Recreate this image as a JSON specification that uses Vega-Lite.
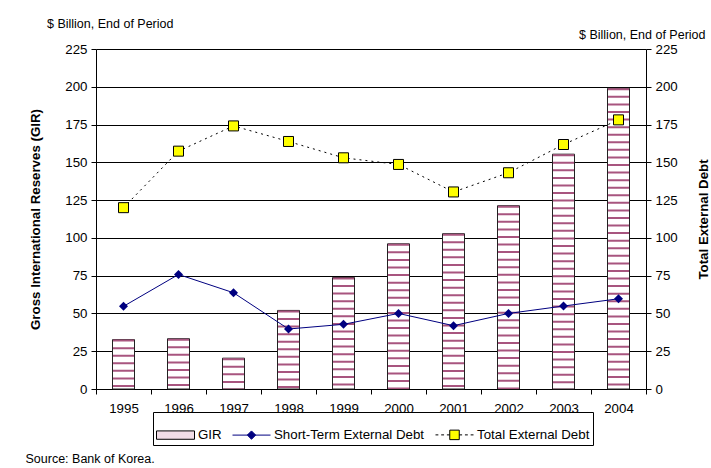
{
  "$schema": "https://vega.github.io/schema/vega-lite/v6.json",
  "width": 550,
  "height": 340,
  "autosize": "none",
  "padding": {"left": 96, "top": 49, "right": 65, "bottom": 79},
  "background": "white",
  "config": {
    "font": "Liberation Sans",
    "view": {"stroke": null},
    "axis": {
      "labelFont": "Liberation Sans",
      "labelFontSize": 13.3,
      "labelColor": "black",
      "domainColor": "black",
      "tickColor": "black",
      "tickSize": 5,
      "titleFont": "Liberation Sans",
      "titleFontSize": 13.3,
      "titleColor": "black",
      "gridColor": "black",
      "gridOpacity": 1,
      "labelOverlap": false
    }
  },
  "title": {
    "text": "$ Billion, End of Period",
    "anchor": "start",
    "frame": "group",
    "fontSize": 12.5,
    "fontWeight": "normal",
    "font": "Liberation Sans",
    "color": "black",
    "dx": -49,
    "dy": 7,
    "offset": 5
  },
  "data": {
    "values": [
      {"year": "1995", "gir": 32.7, "std": 54.7, "ted": 120.0},
      {"year": "1996", "gir": 33.3, "std": 75.8, "ted": 157.4},
      {"year": "1997", "gir": 20.4, "std": 63.7, "ted": 174.1},
      {"year": "1998", "gir": 52.0, "std": 39.7, "ted": 163.8},
      {"year": "1999", "gir": 73.8, "std": 42.8, "ted": 153.0},
      {"year": "2000", "gir": 96.1, "std": 50.0, "ted": 148.6},
      {"year": "2001", "gir": 102.8, "std": 41.9, "ted": 130.4},
      {"year": "2002", "gir": 121.3, "std": 50.0, "ted": 143.1},
      {"year": "2003", "gir": 155.4, "std": 54.9, "ted": 161.8},
      {"year": "2004", "gir": 199.0, "std": 59.7, "ted": 178.1}
    ]
  },
  "layer": [
    {
      "encoding": {
        "x": {
          "field": "year",
          "type": "ordinal",
          "scale": {"paddingInner": 0, "paddingOuter": 0},
          "axis": {
            "orient": "bottom",
            "labelAngle": 0,
            "tickBand": "extent",
            "labelPadding": 7,
            "title": "Source: Bank of Korea.",
            "titleFontSize": 12.5,
            "titleFontWeight": "normal",
            "titleX": -71,
            "titleY": 69,
            "titleAlign": "left",
            "titleBaseline": "middle",
            "titleAngle": 0
          }
        },
        "y": {
          "field": "gir",
          "type": "quantitative",
          "scale": {"domain": [0, 225], "nice": false, "zero": true},
          "axis": {
            "orient": "left",
            "values": [0, 25, 50, 75, 100, 125, 150, 175, 200, 225],
            "grid": true,
            "labelPadding": 4,
            "title": "Gross International Reserves (GIR)",
            "titleFontWeight": "bold",
            "titleAngle": 270,
            "titleX": -61,
            "titleY": 170,
            "titleAlign": "center",
            "titleBaseline": "middle"
          }
        }
      },
      "layer": [
        {
          "mark": {"type": "bar", "width": 22, "fill": "white", "stroke": "#222222", "strokeWidth": 1},
          "encoding": {}
        },
        {
          "mark": {"type": "rule", "color": "#a8557f", "strokeWidth": 21, "strokeDash": [2, 5.57], "strokeCap": "butt"},
          "encoding": {
            "y2": {"datum": 0}
          }
        }
      ]
    },
    {
      "encoding": {
        "x": {
          "field": "year",
          "type": "ordinal",
          "axis": {
            "orient": "top",
            "labels": false,
            "ticks": false,
            "domain": false,
            "grid": false,
            "title": "$ Billion, End of Period",
            "titleFontSize": 12.5,
            "titleFontWeight": "normal",
            "titleX": 609,
            "titleY": -15,
            "titleAlign": "right",
            "titleBaseline": "middle",
            "titleAngle": 0
          }
        }
      },
      "layer": [
        {
          "mark": {"type": "line", "strokeWidth": 1},
          "encoding": {
            "y": {
              "field": "std",
              "type": "quantitative",
              "scale": {"domain": [0, 225], "nice": false},
              "axis": {
                "orient": "right",
                "values": [0, 25, 50, 75, 100, 125, 150, 175, 200, 225],
                "grid": false,
                "labelPadding": 4,
                "title": "Total External Debt",
                "titleFontWeight": "bold",
                "titleAngle": 270,
                "titleX": 57,
                "titleY": 170,
                "titleAlign": "center",
                "titleBaseline": "middle"
              }
            },
            "color": {
              "datum": "Short-Term External Debt",
              "type": "nominal",
              "scale": {
                "domain": ["GIR", "Short-Term External Debt", "Total External Debt"],
                "range": ["#000000", "#000080", "#000000"]
              },
              "legend": {
                "title": null,
                "orient": "none",
                "legendX": 57,
                "legendY": 363,
                "direction": "horizontal",
                "symbolSize": 1444,
                "labelFont": "Liberation Sans",
                "labelFontSize": 13.3,
                "labelColor": "black",
                "labelOffset": 3,
                "columnPadding": 8,
                "strokeColor": "black",
                "padding": 3,
                "encode": {
                  "symbols": {
                    "update": {
                      "shape": {"signal": "datum.value === 'GIR' ? 'M-1,-0.22H1V0.22H-1Z' : datum.value === 'Short-Term External Debt' ? 'M-1,0H1M-0.22,0L0,-0.22L0.22,0L0,0.22Z' : 'M-1,0H-0.85M-0.7,0H-0.55M-0.4,0H-0.25M0.25,0H0.4M0.55,0H0.7M0.85,0H1M-0.25,-0.25H0.25V0.25H-0.25Z'"},
                      "fill": {"signal": "datum.value === 'GIR' ? '#f1dde7' : datum.value === 'Total External Debt' ? '#ffff00' : '#000080'"},
                      "strokeWidth": {"value": 1},
                      "opacity": {"value": 1},
                      "fillOpacity": {"value": 1},
                      "strokeOpacity": {"value": 1}
                    }
                  }
                }
              }
            }
          }
        },
        {
          "mark": {"type": "point", "shape": "diamond", "filled": true, "size": 80, "opacity": 1, "color": "#000080"},
          "encoding": {
            "y": {
              "field": "std",
              "type": "quantitative",
              "scale": {"domain": [0, 225], "nice": false},
              "axis": {
                "orient": "right",
                "values": [0, 25, 50, 75, 100, 125, 150, 175, 200, 225],
                "grid": false,
                "labelPadding": 4,
                "title": "Total External Debt",
                "titleFontWeight": "bold",
                "titleAngle": 270,
                "titleX": 57,
                "titleY": 170,
                "titleAlign": "center",
                "titleBaseline": "middle"
              }
            }
          }
        },
        {
          "mark": {"type": "line", "color": "black", "strokeWidth": 1, "strokeDash": [2, 4]},
          "encoding": {
            "y": {
              "field": "ted",
              "type": "quantitative",
              "scale": {"domain": [0, 225], "nice": false},
              "axis": {
                "orient": "right",
                "values": [0, 25, 50, 75, 100, 125, 150, 175, 200, 225],
                "grid": false,
                "labelPadding": 4,
                "title": "Total External Debt",
                "titleFontWeight": "bold",
                "titleAngle": 270,
                "titleX": 57,
                "titleY": 170,
                "titleAlign": "center",
                "titleBaseline": "middle"
              }
            }
          }
        },
        {
          "mark": {"type": "point", "shape": "square", "filled": true, "size": 100, "opacity": 1, "fill": "#ffff00", "stroke": "black", "strokeWidth": 1},
          "encoding": {
            "y": {
              "field": "ted",
              "type": "quantitative",
              "scale": {"domain": [0, 225], "nice": false},
              "axis": {
                "orient": "right",
                "values": [0, 25, 50, 75, 100, 125, 150, 175, 200, 225],
                "grid": false,
                "labelPadding": 4,
                "title": "Total External Debt",
                "titleFontWeight": "bold",
                "titleAngle": 270,
                "titleX": 57,
                "titleY": 170,
                "titleAlign": "center",
                "titleBaseline": "middle"
              }
            }
          }
        }
      ]
    }
  ],
  "resolve": {"axis": {"x": "independent", "y": "independent"}}
}
